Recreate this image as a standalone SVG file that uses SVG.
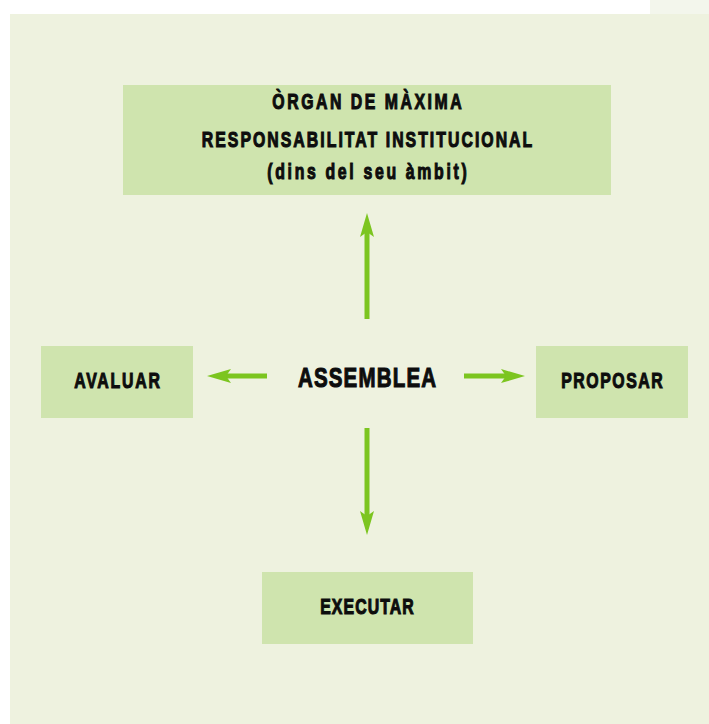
<svg xmlns="http://www.w3.org/2000/svg" width="709" height="724" viewBox="0 0 709 724">
<style>
.box{fill:#cfe4ae}
.t{font-family:"Liberation Sans",Arial,sans-serif;font-weight:bold;fill:#0d0d0d;stroke:#0d0d0d;stroke-width:1.1;text-anchor:middle}
.conn line{stroke:#7cc520;stroke-width:5;marker-end:url(#ah)}
</style>
<defs>
<marker id="ah" viewBox="0 0 24 14" refX="8" refY="7" markerWidth="24" markerHeight="14" markerUnits="userSpaceOnUse" orient="auto">
<path d="M0,0 L24,7 L0,14 L5,7 Z" fill="#7cc520"/>
</marker>
</defs>
<rect x="0" y="0" width="709" height="724" fill="#ffffff"/>
<rect x="650" y="0" width="59" height="15" fill="#f3f6ec"/>
<rect x="10" y="14" width="699" height="710" fill="#eef2df"/>
<g id="organ">
<rect class="box" x="123" y="85" width="488" height="110"/>
<text class="t" transform="translate(367,109) scale(0.72,1)" x="0" y="0" font-size="22" textLength="263" lengthAdjust="spacing">ÒRGAN DE MÀXIMA</text>
<text class="t" transform="translate(367,147) scale(0.72,1)" x="0" y="0" font-size="22" textLength="459" lengthAdjust="spacing">RESPONSABILITAT INSTITUCIONAL</text>
<text class="t" transform="translate(367,179) scale(0.72,1)" x="0" y="0" font-size="22" textLength="277" lengthAdjust="spacing">(dins del seu àmbit)</text>
</g>
<g id="avaluar">
<rect class="box" x="41" y="346" width="152" height="72"/>
<text class="t" transform="translate(117,388) scale(0.72,1)" x="0" y="0" font-size="22" textLength="119" lengthAdjust="spacing">AVALUAR</text>
</g>
<g id="assemblea">
<text class="t" transform="translate(367,387) scale(0.72,1)" x="0" y="0" font-size="28.5" textLength="192" lengthAdjust="spacing">ASSEMBLEA</text>
</g>
<g id="proposar">
<rect class="box" x="536" y="346" width="152" height="72"/>
<text class="t" transform="translate(612,388) scale(0.72,1)" x="0" y="0" font-size="22" textLength="141" lengthAdjust="spacing">PROPOSAR</text>
</g>
<g id="executar">
<rect class="box" x="262" y="572" width="211" height="72"/>
<text class="t" transform="translate(367,614) scale(0.72,1)" x="0" y="0" font-size="22" textLength="130" lengthAdjust="spacing">EXECUTAR</text>
</g>
<g class="conn">
<line x1="367" y1="319" x2="367" y2="229"/>
<line x1="367" y1="428" x2="367" y2="519"/>
<line x1="267" y1="376" x2="223" y2="376"/>
<line x1="464" y1="376" x2="509" y2="376"/>
</g>
</svg>
